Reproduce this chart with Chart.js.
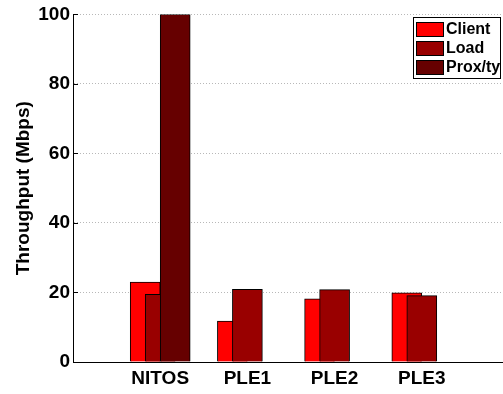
<!DOCTYPE html>
<html>
<head>
<meta charset="utf-8">
<script src="https://cdn.jsdelivr.net/npm/chart.js@4.4.1/dist/chart.umd.min.js"></script>
<style>
html,body{margin:0;padding:0;background:#fff;overflow:hidden;}
#wrap{width:510px;height:394px;position:relative;}
</style>
</head>
<body>
<div id="wrap"><canvas id="c"></canvas></div>
<script>
const categories = ['NITOS', 'PLE1', 'PLE2', 'PLE3'];
const seriesNames = ['Client', 'Load', 'Prox/ty'];
const clientValues = [23.0, 11.8, 18.2, 19.9];
const loadValues = [19.5, 20.9, 20.8, 19.1];
const proxValues = [100, 0, 0, 0];
const yTicks = [0, 20, 40, 60, 80, 100];
const seriesColors = ['#ff0000', '#990000', '#660000'];

const shift = 0.172; // horizontal offset between overlapping series (in category units)
const FONT = '"Liberation Sans", Arial, sans-serif';

function pts(vals, k) {
  return vals.map((v, i) => ({x: i + 1 + (k - 1) * shift, y: v}));
}

const allSeries = [clientValues, loadValues, proxValues];
const datasets = allSeries.map((vals, k) => ({
  label: seriesNames[k],
  data: pts(vals, k),
  backgroundColor: seriesColors[k],
  borderColor: '#000',
  borderWidth: 1,
  borderSkipped: 'bottom',
  barThickness: 30,
  grouped: false,
  order: 3 - k
}));

const legendPlugin = {
  id: 'boxLegend',
  afterDraw(chart) {
    const ctx = chart.ctx;
    const ca = chart.chartArea;
    const ys = chart.scales.y;
    ctx.save();
    ctx.strokeStyle = '#000';
    ctx.lineWidth = 1;
    yTicks.forEach(t => {
      const py = Math.round(ys.getPixelForValue(t)) + 0.5;
      ctx.beginPath();
      ctx.moveTo(ca.left, py);
      ctx.lineTo(ca.left + 5, py);
      ctx.stroke();
    });
    const bx = 413, by = 17, bw = 87, bh = 61;
    ctx.fillStyle = '#fff';
    ctx.fillRect(bx, by, bw, bh);
    ctx.strokeRect(bx + 0.5, by + 0.5, bw, bh);
    ctx.font = 'bold 16px ' + FONT;
    ctx.textBaseline = 'middle';
    ctx.textAlign = 'left';
    chart.data.datasets.forEach((ds, k) => {
      const cy = by + 12 + k * 19;
      ctx.fillStyle = ds.backgroundColor;
      ctx.fillRect(bx + 3, cy - 7, 27, 14);
      ctx.strokeStyle = '#000';
      ctx.strokeRect(bx + 3.5, cy - 6.5, 27, 14);
      ctx.fillStyle = '#000';
      ctx.fillText(ds.label, bx + 33, cy + 1);
    });
    ctx.restore();
  }
};

new Chart(document.getElementById('c'), {
  type: 'bar',
  data: {datasets},
  plugins: [legendPlugin],
  options: {
    responsive: true,
    maintainAspectRatio: false,
    animation: false,
    layout: {padding: {top: 12, right: 1, left: 0, bottom: 0}},
    plugins: {legend: {display: false}, tooltip: {enabled: false}},
    scales: {
      x: {
        type: 'linear',
        offset: false,
        min: 0,
        max: 5,
        afterBuildTicks(scale) {
          scale.ticks = categories.map((c, i) => ({value: i + 1}));
        },
        afterFit(scale) { scale.height = 32; },
        ticks: {
          autoSkip: false,
          maxRotation: 0,
          padding: 5,
          color: '#000',
          font: {family: FONT, size: 19, weight: 'bold'},
          callback: (v) => categories[Math.round(v) - 1] || ''
        },
        grid: {display: false, drawTicks: false},
        border: {display: true, color: '#000', width: 1}
      },
      y: {
        min: 0,
        max: 100,
        afterBuildTicks(scale) {
          scale.ticks = yTicks.map(v => ({value: v}));
        },
        afterFit(scale) { scale.width = 73; },
        ticks: {
          padding: 3,
          color: '#000',
          font: {family: FONT, size: 19, weight: 'bold'}
        },
        grid: {
          drawTicks: false,
          color: (c) => c.tick && c.tick.value === 0 ? 'rgba(0,0,0,0)' : '#b8b8b8',
          lineWidth: 1
        },
        border: {display: true, color: '#000', width: 1, dash: [1, 2], dashOffset: 0},
        title: {
          display: true,
          text: 'Throughput (Mbps)',
          color: '#000',
          font: {family: FONT, size: 19, weight: 'bold'},
          padding: {top: 12, bottom: 0}
        }
      }
    }
  }
});
</script>
</body>
</html>
